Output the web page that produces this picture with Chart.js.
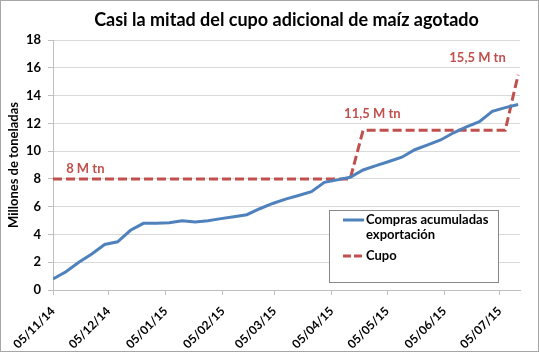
<!DOCTYPE html>
<html>
<head>
<meta charset="utf-8">
<script src="https://cdn.jsdelivr.net/npm/chart.js@4/dist/chart.umd.min.js"></script>
<style>
  html, body { margin: 0; padding: 0; background: #fff; }
  #wrap { width: 539px; height: 352px; position: relative; }
</style>
</head>
<body>
<div id="wrap"><canvas id="chart"></canvas></div>
<script>
// weekly records, first one on 05/11/14
const startDate = '05/11/14'
const weekNumber = [0, 1, 2, 3, 4, 5, 6, 7, 8, 9, 10, 11, 12, 13, 14, 15, 16, 17, 18,
  19, 20, 21, 22, 23, 24, 25, 26, 27, 28, 29, 30, 31, 32, 33, 34, 35, 36]
const comprasAcumuladas = [0.79, 1.31, 2.0, 2.6, 3.28, 3.47, 4.3, 4.8, 4.8, 4.84, 4.98, 4.9, 4.98,
  5.14, 5.27, 5.42, 5.85, 6.23, 6.54, 6.8, 7.08, 7.75, 7.93, 8.12, 8.64, 8.95, 9.25, 9.56,
  10.1, 10.45, 10.8, 11.32, 11.75, 12.12, 12.86, 13.13, 13.35]
const cupo = [8, 8, 8, 8, 8, 8, 8, 8, 8, 8, 8, 8, 8, 8, 8, 8, 8, 8, 8, 8, 8, 8, 8, 8,
  11.5, 11.5, 11.5, 11.5, 11.5, 11.5, 11.5, 11.5, 11.5, 11.5, 11.5, 11.5, 15.5]
const tickLabels = ['05/11/14', '05/12/14', '05/01/15', '05/02/15', '05/03/15',
  '05/04/15', '05/05/15', '05/06/15', '05/07/15']
const seriesNames = ['Compras acumuladas exportación', 'Cupo']
const cupoNotes = ['8 M tn', '11,5 M tn', '15,5 M tn']
const chartTitle = 'Casi la mitad del cupo adicional de maíz agotado'

const BLUE = '#4f81bd'
const RED = '#c0504d'
const FONT = 'Lato, "Open Sans", sans-serif'

function toDay(str) {
  const [d, m, y] = str.split('/').map(Number)
  return Date.UTC(2000 + y, m - 1, d) / 86400000
}
const day0 = toDay(startDate)
const tickDays = tickLabels.map(t => toDay(t) - day0)
const xDays = weekNumber.map(w => w * 7)

// where the cupo notes sit (day, value)
const notePlaces = [[17.5, 8.7], [173, 12.65], [230, 16.7]]

const extras = {
  id: 'extras',
  beforeDraw(chart) {
    const ctx = chart.ctx
    ctx.save()
    ctx.fillStyle = '#fff'
    ctx.fillRect(0, 0, chart.width, chart.height)
    ctx.restore()
  },
  afterDraw(chart) {
    const ctx = chart.ctx
    const xs = chart.scales.x
    const ys = chart.scales.y
    const area = chart.chartArea
    ctx.save()
    // title, centred over the plot area
    ctx.font = 'bold 18px ' + FONT
    ctx.fillStyle = '#000'
    ctx.textAlign = 'center'
    ctx.textBaseline = 'middle'
    ctx.fillText(chartTitle, (area.left + area.right) / 2, area.top - 20)
    // cupo notes
    ctx.font = 'bold 13px ' + FONT
    ctx.fillStyle = RED
    cupoNotes.forEach((txt, i) => {
      ctx.fillText(txt, xs.getPixelForValue(notePlaces[i][0]), ys.getPixelForValue(notePlaces[i][1]))
    })
    // legend box
    const lx = area.left + 276
    const ly = area.top + 170
    ctx.fillStyle = '#fff'
    ctx.fillRect(lx, ly, 169, 72)
    ctx.strokeStyle = '#888'
    ctx.lineWidth = 1
    ctx.strokeRect(lx + 0.5, ly + 0.5, 169, 72)
    ctx.lineWidth = 3
    ctx.strokeStyle = BLUE
    ctx.beginPath()
    ctx.moveTo(lx + 14, ly + 10)
    ctx.lineTo(lx + 35, ly + 10)
    ctx.stroke()
    ctx.strokeStyle = RED
    ctx.setLineDash([8, 3])
    ctx.beginPath()
    ctx.moveTo(lx + 14, ly + 46)
    ctx.lineTo(lx + 35, ly + 46)
    ctx.stroke()
    ctx.setLineDash([])
    ctx.font = 'bold 13px ' + FONT
    ctx.fillStyle = '#000'
    ctx.textAlign = 'left'
    const words = seriesNames[0].split(' ')
    ctx.fillText(words.slice(0, 2).join(' '), lx + 37, ly + 10)
    ctx.fillText(words.slice(2).join(' '), lx + 37, ly + 25)
    ctx.fillText(seriesNames[1], lx + 37, ly + 46)
    // outer border
    ctx.strokeStyle = '#a6a6a6'
    ctx.lineWidth = 1
    ctx.strokeRect(0.5, 0.5, chart.width - 1, chart.height - 1)
    ctx.restore()
  }
}

new Chart(document.getElementById('chart'), {
  type: 'line',
  data: {
    datasets: [
      {
        label: seriesNames[0],
        data: xDays.map((x, i) => ({ x, y: comprasAcumuladas[i] })),
        borderColor: BLUE,
        borderWidth: 3,
        pointRadius: 0,
        tension: 0,
      },
      {
        label: seriesNames[1],
        data: xDays.map((x, i) => ({ x, y: cupo[i] })),
        borderColor: RED,
        borderWidth: 3,
        borderDash: [9, 4],
        pointRadius: 0,
        tension: 0,
      },
    ]
  },
  options: {
    responsive: true,
    maintainAspectRatio: false,
    animation: false,
    devicePixelRatio: 1,
    layout: { padding: { left: 0, right: 19, top: 40, bottom: 0 } },
    plugins: {
      legend: { display: false },
      tooltip: { enabled: false },
      title: { display: false },
    },
    scales: {
      x: {
        type: 'linear',
        min: 0,
        max: 253,
        afterBuildTicks: axis => {
          axis.ticks = tickDays.map(v => ({ value: v }))
        },
        afterFit: axis => { axis.height = 62 },
        grid: {
          drawOnChartArea: false,
          drawTicks: true,
          tickLength: 5,
          color: '#bfbfbf',
        },
        border: { color: '#bfbfbf' },
        ticks: {
          autoSkip: false,
          minRotation: 45,
          maxRotation: 45,
          padding: 9,
          color: '#000',
          font: { family: FONT, size: 12, weight: 'bold' },
          callback: (value, index) => tickLabels[index],
        },
      },
      y: {
        min: 0,
        max: 18,
        afterFit: axis => { axis.width = 53 },
        grid: {
          color: '#d9d9d9',
          tickColor: '#bfbfbf',
          tickLength: 5,
        },
        border: { color: '#bfbfbf' },
        ticks: {
          stepSize: 2,
          padding: 7,
          color: '#000',
          font: { family: FONT, size: 13, weight: 'bold' },
        },
        title: {
          display: true,
          text: 'Millones de toneladas',
          color: '#000',
          font: { family: FONT, size: 13, weight: 'bold' },
          padding: { top: 6, bottom: 0 },
        },
      },
    },
  },
  plugins: [extras],
})
</script>
</body>
</html>
